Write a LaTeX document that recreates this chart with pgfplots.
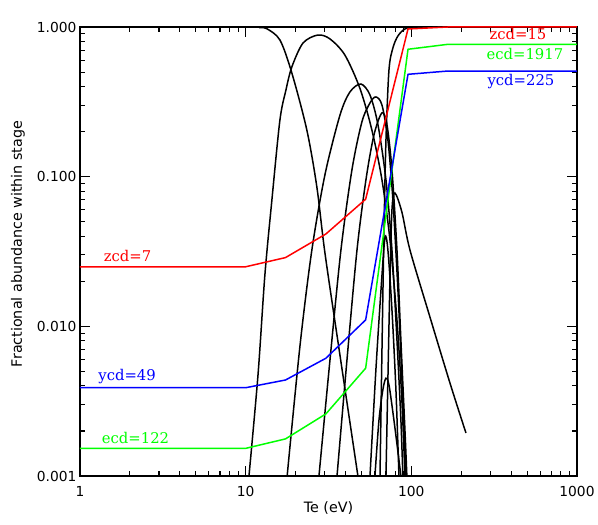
\documentclass[border=0pt]{standalone}
\usepackage{fontspec}
\setmainfont{DejaVu Serif}
\newfontfamily\dvsans{DejaVu Sans}
\usepackage{pgfplots}
\pgfplotsset{compat=1.18}
\begin{document}
\begin{tikzpicture}
\begin{axis}[
  at={(0,0)}, anchor=south west,
  scale only axis, width=497pt, height=449pt,
  xmode=log, ymode=log,
  xmin=1, xmax=1000, ymin=0.001, ymax=1,
  xtick={1,10,100,1000}, xticklabels={1,10,100,1000},
  ytick={0.001,0.01,0.1,1}, yticklabels={0.001,0.010,0.100,1.000},
  tick align=inside,
  major tick length=10pt, minor tick length=5pt,
  axis line style={line width=1.4pt},
  every tick/.style={black, line width=1.1pt},
  tick label style={font=\fontsize{13.8}{16}\dvsans},
  /pgf/number format/assume math mode=true,
  xticklabel style={anchor=center, yshift=-15pt},
  xlabel={Te (eV)},
  ylabel={Fractional abundance within stage},
  label style={font=\fontsize{14.3}{17}\dvsans},
  xlabel style={at={(axis description cs:0.5,0)}, anchor=center, yshift=-32pt},
  ylabel style={at={(axis description cs:-0.1247,0.5167)}, anchor=center},
  clip=true,
]
% black stage curves
\addplot[black, line width=1.5pt, smooth, tension=0.5] coordinates {(1,1) (10,1) (12.2,0.992) (13.4,0.975) (16.1,0.819) (19.0,0.493) (23.4,0.205) (26.9,0.0853) (30.1,0.0309) (37.1,0.0064) (47.6,0.001)};
\addplot[black, line width=1.5pt, smooth, tension=0.5] coordinates {(10.47,0.001) (11.87,0.00473) (13.06,0.022) (14.4,0.0699) (16.1,0.239) (17.5,0.379) (19.0,0.541) (22.2,0.782) (27.3,0.884) (32.3,0.832) (39.7,0.650) (48.9,0.39) (57.8,0.205) (66.5,0.095) (74.3,0.0378) (81.9,0.011) (87.7,0.0032) (91.5,0.001)};
\addplot[black, line width=1.5pt, smooth, tension=0.5] coordinates {(17.8,0.001) (21.3,0.0075) (25.1,0.0324) (30.1,0.103) (37.1,0.258) (42.6,0.368) (49.6,0.416) (56.3,0.351) (62.9,0.222) (70.3,0.095) (76.4,0.0324) (81.9,0.0081) (86.5,0.00237) (88.9,0.001)};
\addplot[black, line width=1.5pt, smooth, tension=0.5] coordinates {(27.7,0.001) (32.3,0.0060) (37.6,0.0324) (43.8,0.111) (50.3,0.232) (56.3,0.311) (61.1,0.341) (66.5,0.301) (72.2,0.176) (77.4,0.070) (83.0,0.0175) (88.9,0.0032) (92.7,0.001)};
\addplot[black, line width=1.5pt, smooth, tension=0.5] coordinates {(35.6,0.001) (40.9,0.006) (47.0,0.0324) (53.2,0.095) (59.5,0.190) (66.5,0.267) (71.3,0.222) (76.4,0.111) (81.9,0.0324) (86.5,0.0081) (91.5,0.00203) (94.0,0.001)};
\addplot[black, line width=1.5pt, smooth, tension=0.5] coordinates {(56.3,0.001) (61.1,0.0051) (65.6,0.0175) (69.3,0.039) (72.2,0.0324) (76.4,0.0129) (80.7,0.0038) (84.2,0.001)};
\addplot[black, line width=1.5pt, smooth, tension=0.5] coordinates {(60.3,0.001) (63.8,0.00237) (67.4,0.00379) (70.3,0.0045) (73.3,0.00406) (78.5,0.00237) (84.2,0.00128) (86.5,0.001)};
\addplot[black, line width=1.5pt, smooth, tension=0.5] coordinates {(70.3,0.001) (72.2,0.00438) (74.3,0.0204) (76.4,0.060) (79.6,0.0778) (87.7,0.058) (98.1,0.0324) (129.5,0.01155) (171,0.00419) (213.6,0.00194)};
\addplot[black, line width=1.5pt, smooth, tension=0.5] coordinates {(64.7,0.001) (66.5,0.00695) (68.4,0.044) (70.3,0.176) (73.3,0.516) (77.4,0.724) (83.0,0.871) (91.5,0.97) (105,0.995) (213.6,1.0)};
% superstage coefficient curves
\addplot[red, line width=1.5pt] coordinates {(1,0.025) (10,0.025) (17.4,0.0288) (30.5,0.0414) (53,0.0707) (95.5,0.97) (166,1.0) (1000,1.0)};
\addplot[green, line width=1.5pt] coordinates {(1,0.00153) (10,0.00153) (17.4,0.00177) (30.5,0.0026) (53,0.00525) (95.5,0.71) (166,0.766) (1000,0.766)};
\addplot[blue, line width=1.5pt] coordinates {(1,0.00389) (10,0.00389) (17.4,0.00438) (30.5,0.00612) (53,0.01104) (95.5,0.483) (166,0.508) (1000,0.508)};
% labels
\node[anchor=base west, text=red, font=\fontsize{14.8}{17}\selectfont] at (rel axis cs:0.041,0.477) {zcd=7};
\node[anchor=base west, text=blue, font=\fontsize{14.8}{17}\selectfont] at (rel axis cs:0.030,0.212) {ycd=49};
\node[anchor=base west, text=green, font=\fontsize{14.8}{17}\selectfont] at (rel axis cs:0.037,0.0728) {ecd=122};
\node[anchor=base west, text=red, font=\fontsize{14.8}{17}\selectfont] at (rel axis cs:0.817,0.9726) {zcd=15};
\node[anchor=base west, text=green, font=\fontsize{14.8}{17}\selectfont] at (rel axis cs:0.811,0.928) {ecd=1917};
\node[anchor=base west, text=blue, font=\fontsize{14.8}{17}\selectfont] at (rel axis cs:0.813,0.8686) {ycd=225};
\node[anchor=base, font=\fontsize{15.7}{18}\selectfont] at (rel axis cs:0.5,1) [yshift=8pt] {W+7 to W+15 superstage};
\end{axis}
\pgfresetboundingbox
\path[use as bounding box] (-80pt,-49pt) rectangle (518pt,476pt);
\end{tikzpicture}
\end{document}
